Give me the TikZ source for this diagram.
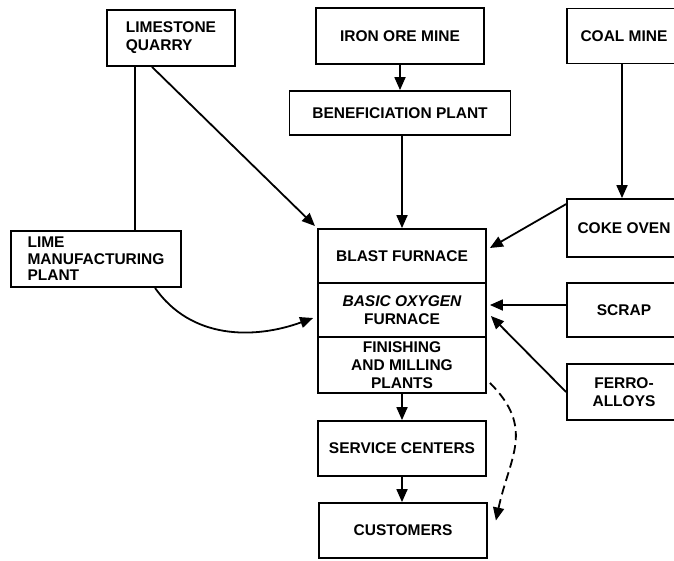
\documentclass[tikz,border=0pt]{standalone}
\usepackage{fontspec}
\setmainfont{Liberation Sans}
\usetikzlibrary{arrows.meta,positioning}
\tikzset{
  flowbox/.style={
    draw,
    line width=1.8pt,
    align=center,
    inner sep=2pt,
    font=\bfseries\fontsize{15.5}{18}\selectfont
  },
  stagebox/.style={
    flowbox,
    minimum width=168pt,
    minimum height=54pt
  },
  feedbox/.style={
    flowbox,
    minimum width=114pt,
    minimum height=56pt
  },
  flowline/.style={
    line width=1.8pt
  },
  flowarrow/.style={
    -{Triangle[length=13pt,width=11pt]},
    line width=1.8pt
  }
}

\begin{document}
\begin{tikzpicture}[x=1pt,y=1pt]
    \useasboundingbox (0,0) rectangle (674,-560);
    \clip (0,0) rectangle (674,-560);

    % raw materials
    \node[flowbox, minimum width=128pt, minimum height=56pt, align=left] (quarry) at (171,-38) {LIMESTONE\\QUARRY};
    \node[stagebox, minimum height=56pt] (ironore) at (400,-36) {IRON ORE MINE};
    \node[feedbox, minimum height=55pt] (coal) at (624,-36) {COAL MINE};
    \node[flowbox, minimum width=221pt, minimum height=44pt] (benef) at (400,-113) {BENEFICIATION PLANT};
    \node[flowbox, minimum width=170pt, minimum height=56pt, align=left,
          font=\bfseries\fontsize{15.5}{16.5}\selectfont] (lime) at (96,-259) {LIME\\MANUFACTURING\\PLANT};
    \node[feedbox, minimum height=58pt] (coke) at (624,-228) {COKE OVEN};
    \node[feedbox, minimum height=54pt] (scrap) at (624,-310) {SCRAP};
    \node[feedbox] (ferro) at (624,-392) {FERRO-\\ALLOYS};

    % steel plant
    \node[stagebox] (blast) at (402,-256) {BLAST FURNACE};
    \node[stagebox, below=-1.8pt of blast] (bof) {\itshape BASIC OXYGEN\\FURNACE};
    \node[stagebox, minimum height=56pt, below=-1.8pt of bof] (finish) {FINISHING\\AND MILLING\\PLANTS};
    \node[stagebox, minimum height=55pt] (service) at (402,-448.5) {SERVICE CENTERS};
    \node[stagebox, minimum height=55pt] (customers) at (403,-530.5) {CUSTOMERS};

    \draw[flowarrow] (ironore.south -| benef.north) -- (benef.north);
    \draw[flowarrow] (benef.south -| blast.north) -- (blast.north);
    \draw[flowline] ([xshift=-36pt]quarry.south) -- ([xshift=-36pt]quarry.south |- lime.north);
    \draw[flowarrow, shorten >=3pt] ([xshift=-19pt]quarry.south) -- (blast.north west);
    \draw[flowarrow] ([xshift=59pt]lime.south) to[out=-55,in=200] ([xshift=-4pt,yshift=-8pt]bof.west);
    \draw[flowarrow] ([xshift=-2pt]coal.south) -- ([xshift=-2pt]coke.north);
    \draw[flowarrow] ([yshift=-6pt]coke.north west) -- ([xshift=3pt,yshift=8pt]blast.east);
    \draw[flowarrow, shorten >=3pt] ([yshift=5pt]scrap.west) -- ([yshift=5pt]scrap.west -| bof.east);
    \draw[flowarrow] (ferro.west) -- ([xshift=4pt,yshift=-6pt]bof.east);
    \draw[flowarrow] (finish.south) -- (finish.south |- service.north);
    \draw[flowarrow] (service.south) -- (service.south |- customers.north);
    \draw[flowarrow, dash pattern=on 9pt off 5pt] ([xshift=3pt,yshift=11pt]finish.south east)
        to[out=-45,in=78,looseness=1.2] ([xshift=8pt,yshift=10pt]customers.east);
\end{tikzpicture}
\end{document}
